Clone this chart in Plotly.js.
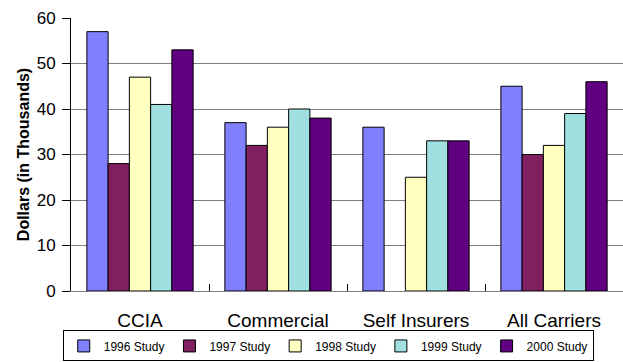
<!DOCTYPE html>
<html>
<head>
<meta charset="utf-8">
<script src="https://cdn.plot.ly/plotly-3.0.1.min.js"></script>
<style>html,body{margin:0;padding:0;background:#fff;}#chart{width:623px;height:362px;}</style>
</head>
<body>
<div id="chart"></div>
<script>
var categories = ["CCIA", "Commercial", "Self Insurers", "All Carriers"];
var seriesNames = ["1996 Study", "1997 Study", "1998 Study", "1999 Study", "2000 Study"];
var study1996 = [57, 37, 36, 45];
var study1997 = [28, 32, null, 30];
var study1998 = [47, 36, 25, 32];
var study1999 = [41, 40, 33, 39];
var study2000 = [53, 38, 33, 46];
var yTicks = [0, 10, 20, 30, 40, 50, 60];

var seriesValues = [study1996, study1997, study1998, study1999, study2000];
var colors = ["#8080FF", "#802060", "#FFFFC0", "#A0E0E0", "#600080"];
var FONT = "Liberation Sans";

var traces = seriesValues.map(function (vals, i) {
  return {
    type: "bar",
    name: seriesNames[i],
    x: categories,
    y: vals,
    marker: { color: colors[i], line: { color: "#000", width: 1 } }
  };
});

var layout = {
  width: 623, height: 362,
  margin: { l: 71, r: 0, t: 18, b: 71 },
  paper_bgcolor: "#fff", plot_bgcolor: "#fff",
  barmode: "group", bargap: 0.23, bargroupgap: 0,
  font: { family: FONT, color: "#000" },
  showlegend: true,
  legend: {
    orientation: "h", x: 0.466, xanchor: "center", y: -0.258, yanchor: "bottom",
    bordercolor: "#000", borderwidth: 1, bgcolor: "#fff",
    font: { size: 12, family: FONT },
    itemwidth: 30, traceorder: "normal", tracegroupgap: 0
  },
  xaxis: {
    type: "category", range: [-0.5, 3.5], fixedrange: true,
    showline: true, linecolor: "#808080", linewidth: 1,
    ticks: "inside", tickson: "boundaries", ticklen: 7, tickcolor: "#000",
    tickfont: { size: 19, family: FONT }, ticklabelstandoff: 12,
    showgrid: false, zeroline: false
  },
  yaxis: {
    range: [0, 60], tickvals: yTicks, ticktext: yTicks.map(String),
    showline: true, linecolor: "#000", linewidth: 1,
    ticks: "outside", ticklen: 8, tickcolor: "#000",
    tickfont: { size: 17, family: FONT }, ticklabelstandoff: 3,
    showgrid: true, gridcolor: "#808080", gridwidth: 1, zeroline: false,
    title: { text: "Dollars (in Thousands)", font: { size: 16, weight: "bold", family: FONT }, standoff: 3 },
    automargin: false
  }
};

Plotly.newPlot("chart", traces, layout, { displayModeBar: false, staticPlot: true });
</script>
</body>
</html>
